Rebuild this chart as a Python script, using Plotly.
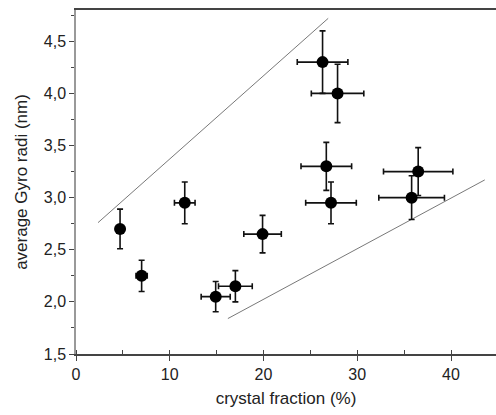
import plotly.graph_objects as go

crystal_fraction = [4.7, 7.0, 11.6, 14.9, 17.0, 19.9, 26.3, 27.9, 26.7, 27.2, 36.5, 35.8]
gyro_radius = [2.70, 2.25, 2.95, 2.05, 2.15, 2.65, 4.30, 4.00, 3.30, 2.95, 3.25, 3.00]
x_error = [0.4, 0.6, 1.1, 1.55, 1.8, 2.0, 2.7, 2.8, 2.7, 2.7, 3.7, 3.5]
y_error = [0.19, 0.15, 0.20, 0.145, 0.15, 0.18, 0.30, 0.28, 0.23, 0.20, 0.23, 0.21]

upper_line_x = [2.35, 26.9]
upper_line_y = [2.76, 4.72]
lower_line_x = [16.2, 43.6]
lower_line_y = [1.84, 3.17]

x_ticks = [0, 10, 20, 30, 40]
y_ticks = [1.5, 2.0, 2.5, 3.0, 3.5, 4.0, 4.5]

fig = go.Figure()
for lx, ly in [(upper_line_x, upper_line_y), (lower_line_x, lower_line_y)]:
    fig.add_trace(go.Scatter(x=lx, y=ly, mode="lines",
                             line=dict(color="#555555", width=0.8),
                             showlegend=False, hoverinfo="skip"))

fig.add_trace(go.Scatter(
    x=crystal_fraction, y=gyro_radius, mode="markers",
    marker=dict(color="black", size=12, symbol="circle"),
    error_x=dict(type="data", array=x_error, color="#111111", thickness=1.6, width=3),
    error_y=dict(type="data", array=y_error, color="#111111", thickness=1.6, width=3),
    showlegend=False))

font = "Liberation Sans, Arial, sans-serif"
fig.update_layout(
    width=496, height=415,
    margin=dict(l=76, r=0, t=10, b=61),
    plot_bgcolor="white", paper_bgcolor="white",
    separators=",.",
    font=dict(family=font, size=16, color="#222222"),
    xaxis=dict(range=[0, 44.8], tickvals=x_ticks, ticks="outside", ticklen=5,
               tickcolor="#444444", showline=True, linecolor="#444444", linewidth=1.5,
               mirror=True, showgrid=False, zeroline=False,
               minor=dict(dtick=5, ticks="inside", ticklen=4, tickcolor="#444444"),
               title=dict(text="crystal fraction (%)", standoff=10, font=dict(size=17)),
               tickfont=dict(size=16)),
    yaxis=dict(range=[1.5, 4.8], tickvals=y_ticks, tickformat=".1f", ticks="outside",
               ticklen=5, tickcolor="#444444", showline=True, linecolor="#999999",
               linewidth=1.5, showgrid=False, zeroline=False,
               minor=dict(dtick=0.25, ticks="outside", ticklen=3, tickcolor="#444444"),
               title=dict(text="average Gyro radi (nm)", standoff=12, font=dict(size=17)),
               tickfont=dict(size=16)),
)
fig.write_html("out.html")
